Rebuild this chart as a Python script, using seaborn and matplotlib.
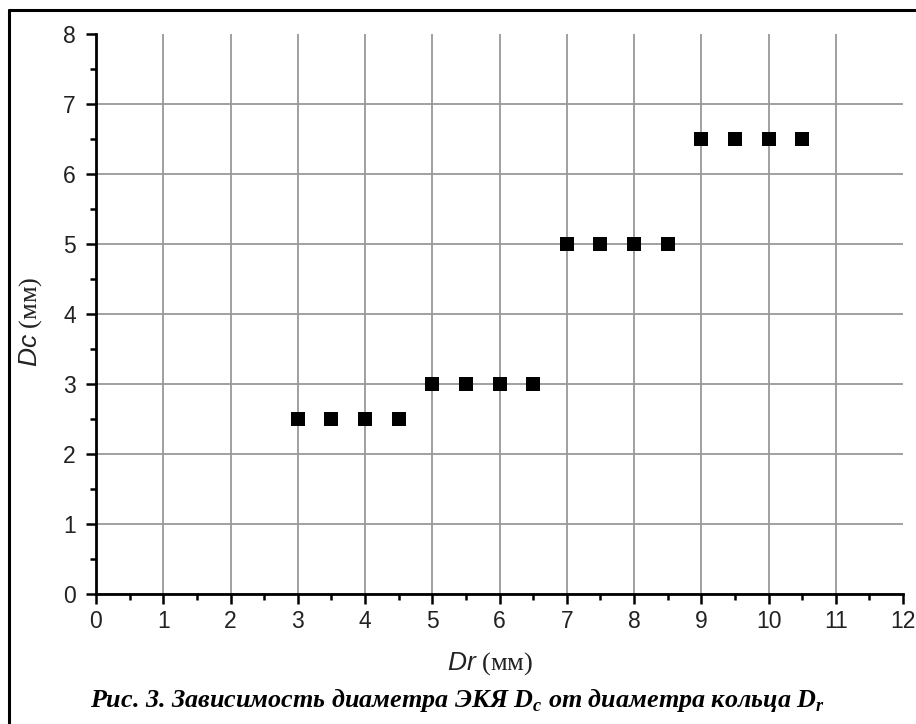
import matplotlib
matplotlib.use("Agg")
import matplotlib.pyplot as plt
from matplotlib.lines import Line2D
from matplotlib.ticker import MultipleLocator
import seaborn as sns
import pandas as pd

# ring diameter Dr (mm) and cell diameter Dc (mm)
ring_d = [3, 3.5, 4, 4.5, 5, 5.5, 6, 6.5, 7, 7.5, 8, 8.5, 9, 9.5, 10, 10.5]
cell_d = [2.5, 2.5, 2.5, 2.5, 3, 3, 3, 3, 5, 5, 5, 5, 6.5, 6.5, 6.5, 6.5]
x_ticks = list(range(0, 13))
y_ticks = list(range(0, 9))

df = pd.DataFrame({"Dr": ring_d, "Dc": cell_d})

sns.set_style("white")
plt.rcParams["font.family"] = ["Liberation Sans", "DejaVu Sans"]
plt.rcParams["mathtext.fontset"] = "custom"
plt.rcParams["mathtext.rm"] = "Liberation Serif"
plt.rcParams["mathtext.it"] = "Liberation Sans:italic"
plt.rcParams["mathtext.bf"] = "Liberation Serif:bold"
plt.rcParams["mathtext.bfit"] = "Liberation Serif:bold:italic"

fig = plt.figure(figsize=(9.16, 7.24), dpi=100)
ax = fig.add_axes([96 / 916, 1 - 594 / 724, (903 - 96) / 916, (594 - 34) / 724])

sns.scatterplot(data=df, x="Dr", y="Dc", marker="s", s=88, color="black",
                linewidth=0, ax=ax, zorder=3)

ax.set_xlim(0, 12)
ax.set_ylim(0, 8)
ax.set_xticks(x_ticks)
ax.set_yticks(y_ticks)
ax.xaxis.set_minor_locator(MultipleLocator(0.5))
ax.yaxis.set_minor_locator(MultipleLocator(0.5))

ax.grid(True, which="major", color="#999999", linewidth=1.3)
ax.xaxis.get_gridlines()[-1].set_visible(False)
ax.yaxis.get_gridlines()[-1].set_visible(False)

for side in ["top", "right"]:
    ax.spines[side].set_visible(False)
for side in ["left", "bottom"]:
    ax.spines[side].set_linewidth(2)
    ax.spines[side].set_color("black")

ax.tick_params(which="major", direction="out", length=7.5, width=1.8,
               labelsize=16.5, colors="black", labelcolor="#222222")
ax.tick_params(which="minor", direction="out", length=4.5, width=1.8, colors="black")
ax.tick_params(axis="y", which="both", left=True, pad=7)
ax.tick_params(axis="x", which="both", bottom=True, pad=4)

ax.set_xlabel("")
ax.set_ylabel("")

fig.text(490 / 916, 1 - 664 / 724, r"$\mathit{Dr}$ (мм)", ha="center", va="center",
         fontsize=19, family="Liberation Serif", color="#222222")
fig.text(31 / 916, 1 - 322 / 724, r"$\mathit{Dc}$ (мм)", ha="center", va="center",
         fontsize=19, family="Liberation Serif", rotation=90, color="#222222")

fig.text(458 / 916, 1 - 700 / 724,
         r"Рис. 3. Зависимость диаметра ЭКЯ $\mathbfit{D}_\mathbfit{c}$ от диаметра кольца $\mathbfit{D}_\mathbfit{r}$",
         ha="center", va="center", fontsize=18.8, family="Liberation Serif",
         fontweight="bold", fontstyle="italic", color="black")

# outer frame (top and left edges visible)
fig.add_artist(Line2D([9 / 916, 9 / 916], [0, 1 - 10 / 724], transform=fig.transFigure,
                      color="black", linewidth=2.2))
fig.add_artist(Line2D([9 / 916, 1], [1 - 10 / 724, 1 - 10 / 724], transform=fig.transFigure,
                      color="black", linewidth=2.2))

fig.savefig("out.png", dpi=100)
